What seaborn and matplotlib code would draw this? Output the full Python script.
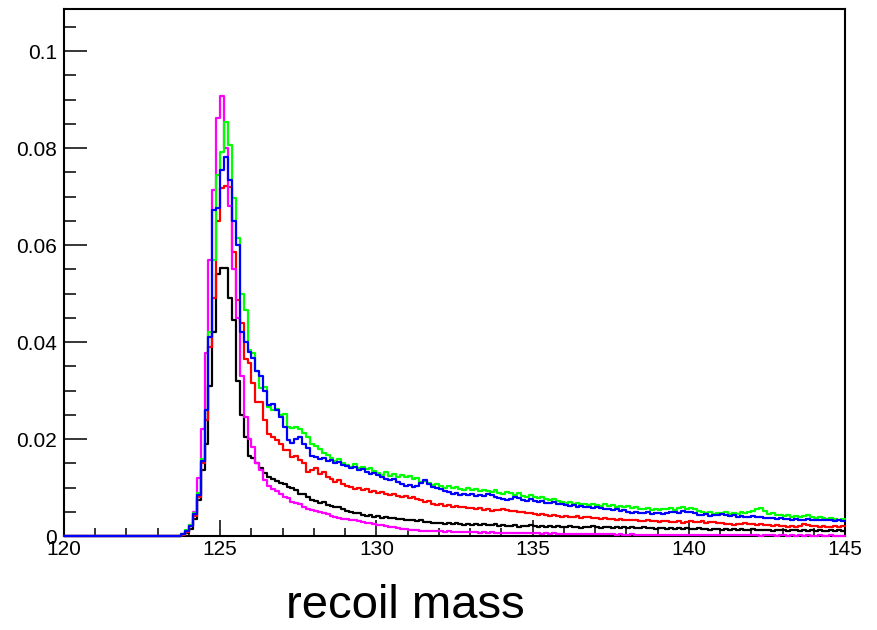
import numpy as np
import pandas as pd
import matplotlib
matplotlib.use("Agg")
import matplotlib.pyplot as plt
import seaborn as sns
from matplotlib.ticker import MultipleLocator, FuncFormatter

# ---------------- data ----------------
x_min, x_max, bin_width = 120.0, 145.0, 0.125
first_filled = 123.75          # bins below this are empty

green = [
    0.0004, 0.0012, 0.0022, 0.0048, 0.0088, 0.0158, 0.0260, 0.0420, 0.0570, 0.0744,
    0.0792, 0.0854, 0.0806, 0.0697, 0.0614, 0.0500, 0.0466, 0.0384, 0.0377, 0.0340,
    0.0305, 0.0308, 0.0266, 0.0260, 0.0262, 0.0250, 0.0252, 0.0225, 0.0222, 0.0224,
    0.0220, 0.0212, 0.0205, 0.0190,
    0.0186, 0.0180, 0.0172, 0.0168, 0.0160, 0.0155, 0.0158, 0.0150,
    0.0146, 0.0142, 0.0148, 0.0140, 0.0143, 0.0138, 0.0141, 0.0135,
    0.0130, 0.0126, 0.0133, 0.0124, 0.0127, 0.0122, 0.0125, 0.0121,
    0.0123, 0.0117, 0.0120, 0.0112, 0.0114, 0.0110, 0.0106, 0.0108,
    0.0104, 0.0100, 0.0103, 0.0098, 0.0101, 0.0096, 0.0095, 0.0098,
    0.0094, 0.0097, 0.0092, 0.0095, 0.0093, 0.0090, 0.0094, 0.0088,
    0.0086, 0.0090, 0.0088, 0.0084, 0.0089, 0.0083, 0.0080, 0.0084,
    0.0081, 0.0078, 0.0080, 0.0076, 0.0074, 0.0077, 0.0072, 0.0070,
    0.0068, 0.0071, 0.0066, 0.0069, 0.0065, 0.0067, 0.0063, 0.0066,
    0.0064, 0.0062, 0.0065, 0.0061, 0.0063, 0.0060, 0.0062, 0.0059,
    0.0061, 0.0058, 0.0060, 0.0056, 0.0055, 0.0057, 0.0054, 0.0056,
    0.0053, 0.0056, 0.0055, 0.0058, 0.0054, 0.0057, 0.0059, 0.0056,
    0.0058, 0.0055, 0.0052, 0.0049, 0.0047, 0.0050, 0.0046, 0.0048,
    0.0047, 0.0049, 0.0045, 0.0048, 0.0046, 0.0050, 0.0047, 0.0049,
    0.0051, 0.0055, 0.0057, 0.0052, 0.0045, 0.0047, 0.0043, 0.0044,
    0.0041, 0.0043, 0.0040, 0.0042, 0.0039, 0.0041, 0.0043, 0.0040,
    0.0038, 0.0040, 0.0037, 0.0036, 0.0038, 0.0035, 0.0034, 0.0035,
]

blue = [
    0.0004, 0.0010, 0.0020, 0.0045, 0.0085, 0.0155, 0.0260, 0.0410, 0.0672, 0.0676,
    0.0755, 0.0781, 0.0734, 0.0650, 0.0600, 0.0420, 0.0400, 0.0380, 0.0367, 0.0340,
    0.0330, 0.0300, 0.0270, 0.0272, 0.0260, 0.0245, 0.0225, 0.0198, 0.0192, 0.0200,
    0.0204, 0.0190, 0.0182, 0.0165,
    0.0162, 0.0158, 0.0160, 0.0154, 0.0156, 0.0150, 0.0153, 0.0147,
    0.0144, 0.0140, 0.0142, 0.0136, 0.0138, 0.0132, 0.0128, 0.0130,
    0.0125, 0.0121, 0.0118, 0.0115, 0.0117, 0.0112, 0.0108, 0.0104,
    0.0106, 0.0101, 0.0103, 0.0110, 0.0116, 0.0108, 0.0101, 0.0098,
    0.0096, 0.0092, 0.0090, 0.0087, 0.0088, 0.0085, 0.0087, 0.0084,
    0.0086, 0.0083, 0.0085, 0.0082, 0.0086, 0.0084, 0.0081, 0.0078,
    0.0076, 0.0074, 0.0077, 0.0080, 0.0078, 0.0075, 0.0073, 0.0076,
    0.0072, 0.0070, 0.0073, 0.0069, 0.0068, 0.0070, 0.0066, 0.0067,
    0.0064, 0.0062, 0.0063, 0.0060, 0.0061, 0.0059, 0.0060, 0.0058,
    0.0059, 0.0057, 0.0055, 0.0056, 0.0054, 0.0055, 0.0052, 0.0053,
    0.0050, 0.0048, 0.0049, 0.0047, 0.0048, 0.0049, 0.0046, 0.0047,
    0.0048, 0.0046, 0.0047, 0.0049, 0.0050, 0.0048, 0.0051, 0.0049,
    0.0050, 0.0047, 0.0044, 0.0043, 0.0045, 0.0042, 0.0044, 0.0043,
    0.0045, 0.0044, 0.0042, 0.0043, 0.0040, 0.0041, 0.0039, 0.0040,
    0.0041, 0.0039, 0.0040, 0.0038, 0.0037, 0.0038, 0.0036, 0.0037,
    0.0035, 0.0036, 0.0034, 0.0035, 0.0033, 0.0034, 0.0035, 0.0033,
    0.0034, 0.0033, 0.0034, 0.0032, 0.0033, 0.0031, 0.0032, 0.0031,
]

red = [
    0.0003, 0.0009, 0.0020, 0.0042, 0.0080, 0.0150, 0.0240, 0.0390, 0.0490, 0.0650,
    0.0718, 0.0722, 0.0720, 0.0586, 0.0487, 0.0440, 0.0365, 0.0357, 0.0315, 0.0276,
    0.0276, 0.0240, 0.0210, 0.0204, 0.0198, 0.0190, 0.0177, 0.0177, 0.0163, 0.0165,
    0.0157, 0.0150, 0.0132, 0.0136,
    0.0140, 0.0128, 0.0133, 0.0122, 0.0118, 0.0112, 0.0115, 0.0108,
    0.0104, 0.0101, 0.0097, 0.0100, 0.0094, 0.0096, 0.0091, 0.0093,
    0.0089, 0.0091, 0.0086, 0.0084, 0.0087, 0.0082, 0.0080, 0.0083,
    0.0078, 0.0080, 0.0076, 0.0074, 0.0070, 0.0072, 0.0066, 0.0064,
    0.0065, 0.0062, 0.0063, 0.0060, 0.0061, 0.0059, 0.0060, 0.0057,
    0.0058, 0.0056, 0.0057, 0.0054, 0.0055, 0.0052, 0.0054, 0.0053,
    0.0055, 0.0053, 0.0051, 0.0052, 0.0049, 0.0050, 0.0047, 0.0048,
    0.0046, 0.0044, 0.0045, 0.0043, 0.0042, 0.0044, 0.0041, 0.0040,
    0.0041, 0.0039, 0.0040, 0.0041, 0.0038, 0.0040, 0.0039, 0.0037,
    0.0038, 0.0036, 0.0037, 0.0035, 0.0036, 0.0034, 0.0035, 0.0033,
    0.0034, 0.0032, 0.0033, 0.0031, 0.0030, 0.0032, 0.0030, 0.0031,
    0.0029, 0.0030, 0.0031, 0.0029, 0.0028, 0.0030, 0.0027, 0.0028,
    0.0030, 0.0029, 0.0028, 0.0030, 0.0027, 0.0029, 0.0028, 0.0026,
    0.0027, 0.0025, 0.0024, 0.0023, 0.0025, 0.0024, 0.0026, 0.0025,
    0.0024, 0.0023, 0.0025, 0.0022, 0.0023, 0.0021, 0.0022, 0.0020,
    0.0021, 0.0019, 0.0020, 0.0019, 0.0021, 0.0024, 0.0022, 0.0020,
    0.0021, 0.0019, 0.0020, 0.0018, 0.0019, 0.0021, 0.0019, 0.0020,
]

black = [
    0.0002, 0.0006, 0.0015, 0.0035, 0.0075, 0.0136, 0.0190, 0.0310, 0.0420, 0.0540,
    0.0553, 0.0552, 0.0490, 0.0445, 0.0320, 0.0250, 0.0204, 0.0165, 0.0160, 0.0150,
    0.0140, 0.0130, 0.0122, 0.0118, 0.0113, 0.0110, 0.0108, 0.0101, 0.0098, 0.0094,
    0.0086, 0.0087, 0.0080, 0.0075,
    0.0072, 0.0068, 0.0070, 0.0064, 0.0062, 0.0059, 0.0060, 0.0055,
    0.0052, 0.0049, 0.0047, 0.0048, 0.0044, 0.0042, 0.0043, 0.0040,
    0.0041, 0.0038, 0.0039, 0.0037, 0.0038, 0.0035, 0.0036, 0.0034,
    0.0033, 0.0034, 0.0031, 0.0032, 0.0029, 0.0028, 0.0027, 0.0026,
    0.0027, 0.0025, 0.0026, 0.0024, 0.0026, 0.0025, 0.0023, 0.0024,
    0.0023, 0.0024, 0.0022, 0.0025, 0.0023, 0.0022, 0.0024, 0.0021,
    0.0022, 0.0020, 0.0021, 0.0022, 0.0019, 0.0021, 0.0020, 0.0022,
    0.0020, 0.0019, 0.0021, 0.0019, 0.0020, 0.0018, 0.0021, 0.0019,
    0.0019, 0.0020, 0.0018, 0.0019, 0.0017, 0.0019, 0.0018, 0.0020,
    0.0018, 0.0017, 0.0019, 0.0018, 0.0016, 0.0018, 0.0017, 0.0019,
    0.0017, 0.0018, 0.0016, 0.0017, 0.0018, 0.0016, 0.0017, 0.0015,
    0.0016, 0.0017, 0.0015, 0.0016, 0.0014, 0.0016, 0.0015, 0.0017,
    0.0015, 0.0014, 0.0016, 0.0014, 0.0015, 0.0013, 0.0014, 0.0015,
    0.0013, 0.0014, 0.0012, 0.0014, 0.0013, 0.0015, 0.0013, 0.0012,
    0.0014, 0.0012, 0.0013, 0.0012, 0.0013, 0.0011, 0.0012, 0.0013,
    0.0012, 0.0011, 0.0013, 0.0012, 0.0011, 0.0012, 0.0010, 0.0012,
    0.0011, 0.0012, 0.0011, 0.0010, 0.0012, 0.0011, 0.0012, 0.0011,
]

magenta = [
    0.0005, 0.0010, 0.0023, 0.0050, 0.0120, 0.0220, 0.0377, 0.0570, 0.0713, 0.0862,
    0.0907, 0.0800, 0.0680, 0.0550, 0.0450, 0.0330, 0.0245, 0.0200, 0.0184, 0.0150,
    0.0136, 0.0115, 0.0103, 0.0097, 0.0092, 0.0086, 0.0080, 0.0079, 0.0071, 0.0069,
    0.0066, 0.0060, 0.0055, 0.0053,
    0.0052, 0.0049, 0.0047, 0.0045, 0.0042, 0.0040, 0.0038, 0.0036,
    0.0035, 0.0033, 0.0032, 0.0030, 0.0029, 0.0027, 0.0026, 0.0025,
    0.0023, 0.0022, 0.0020, 0.0019, 0.0018, 0.0016, 0.0015, 0.0014,
    0.0013, 0.0012, 0.0012, 0.0011, 0.0011, 0.0010, 0.0010, 0.0010,
    0.0010, 0.0009, 0.0010, 0.0009, 0.0009, 0.0008, 0.0009, 0.0008,
    0.0008, 0.0008, 0.0007, 0.0008, 0.0007, 0.0008, 0.0007, 0.0007,
    0.0007, 0.0006, 0.0007, 0.0006, 0.0007, 0.0006, 0.0006, 0.0006,
    0.0006, 0.0006, 0.0005, 0.0006, 0.0005, 0.0006, 0.0005, 0.0005,
    0.0005, 0.0005, 0.0005, 0.0004, 0.0005, 0.0004, 0.0005, 0.0004,
    0.0004, 0.0004, 0.0004, 0.0004, 0.0004, 0.0003, 0.0004, 0.0003,
    0.0003, 0.0004, 0.0003, 0.0003, 0.0003, 0.0003, 0.0003, 0.0003,
    0.0003, 0.0003, 0.0002, 0.0003, 0.0003, 0.0002, 0.0003, 0.0002,
    0.0003, 0.0002, 0.0002, 0.0002, 0.0003, 0.0002, 0.0002, 0.0002,
    0.0002, 0.0002, 0.0002, 0.0002, 0.0002, 0.0002, 0.0002, 0.0002,
    0.0002, 0.0002, 0.0001, 0.0002, 0.0002, 0.0002, 0.0001, 0.0002,
    0.0002, 0.0001, 0.0002, 0.0001, 0.0002, 0.0001, 0.0002, 0.0001,
    0.0001, 0.0002, 0.0001, 0.0001, 0.0002, 0.0001, 0.0001, 0.0001,
]

series_names = ["black", "red", "magenta", "green", "blue"]
series_values = [black, red, magenta, green, blue]
series_colors = ["#000000", "#ff0000", "#ff00ff", "#00ff00", "#0000ff"]

x_label = "recoil mass"
x_ticks = [120, 125, 130, 135, 140, 145]
y_ticks = [0, 0.02, 0.04, 0.06, 0.08, 0.1]

# ---------------- build table ----------------
n_bins = int(round((x_max - x_min) / bin_width))
edges = [x_min + k * bin_width for k in range(n_bins + 1)]
centers = [(a + b) / 2 for a, b in zip(edges[:-1], edges[1:])]
n_empty = int(round((first_filled - x_min) / bin_width))
rows = []
for name, vals in zip(series_names, series_values):
    full = [0.0] * n_empty + list(vals)
    for c, v in zip(centers, full):
        rows.append({"mass": c, "w": v, "series": name})
df = pd.DataFrame(rows)

# ---------------- plot ----------------
sns.set_style("ticks")
plt.rcParams["font.family"] = ["Liberation Sans", "DejaVu Sans"]
plt.rcParams["text.color"] = "black"
plt.rcParams["axes.labelcolor"] = "black"
plt.rcParams["xtick.color"] = "black"
plt.rcParams["ytick.color"] = "black"

fig = plt.figure(figsize=(8.78, 6.30), dpi=100)
ax = fig.add_axes([64 / 878, 1 - 536 / 630, (845 - 64) / 878, (536 - 9) / 630])

for name, col in zip(series_names, series_colors):
    sub = df[df["series"] == name]
    sns.histplot(data=sub, x="mass", weights="w", bins=edges, element="step",
                 fill=False, color=col, linewidth=1.6, ax=ax)
    ln = ax.lines[-1]
    ln.set_zorder(3)
    ln.set_clip_on(False)

ax.set_xlim(x_min, x_max)
ax.set_ylim(0, 0.1087)
ax.set_xticks(x_ticks)
ax.set_yticks(y_ticks)
ax.xaxis.set_minor_locator(MultipleLocator(1))
ax.yaxis.set_minor_locator(MultipleLocator(0.005))
ax.yaxis.set_major_formatter(FuncFormatter(lambda v, p: f"{v:g}"))
ax.xaxis.set_major_formatter(FuncFormatter(lambda v, p: f"{v:g}"))

ax.tick_params(axis="both", which="both", direction="in", width=1.1, colors="black",
               labelcolor="black", top=False, right=False)
ax.tick_params(axis="y", which="major", length=16.5, labelsize=15, pad=5)
ax.tick_params(axis="y", which="minor", length=8.4)
ax.tick_params(axis="x", which="major", length=11.4, labelsize=15, pad=3)
ax.tick_params(axis="x", which="minor", length=5.7)

for s in ax.spines.values():
    s.set_visible(True)
    s.set_linewidth(1.5)
    s.set_color("black")

ax.set_ylabel("")
ax.set_xlabel(x_label, fontsize=34, color="black")
ax.xaxis.label.set_verticalalignment("baseline")
ax.xaxis.set_label_coords(0.437, -0.156)

fig.savefig("out.png", dpi=100)
